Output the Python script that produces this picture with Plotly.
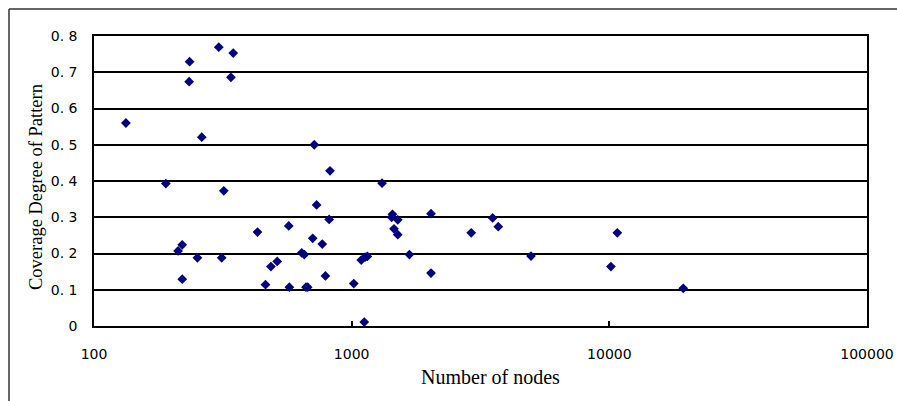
import plotly.graph_objects as go

nodes = [305, 347, 235, 234, 340, 133, 262, 190, 319, 716,
         824, 1312, 731, 818, 431, 570, 706, 769, 220, 212,
         252, 313, 220, 640, 655, 486, 514, 791, 463, 573,
         665, 675, 1019, 1119, 1089, 1127, 1150, 1440, 1430, 1510,
         1460, 1510, 2032, 2032, 1675, 2911, 3524, 3707, 4966, 10740,
         10140, 19360]
coverage = [0.769, 0.753, 0.729, 0.674, 0.686, 0.560, 0.521, 0.393, 0.373, 0.500,
            0.428, 0.394, 0.334, 0.294, 0.259, 0.276, 0.242, 0.226, 0.224, 0.207,
            0.188, 0.188, 0.129, 0.202, 0.197, 0.164, 0.178, 0.138, 0.114, 0.107,
            0.107, 0.107, 0.117, 0.011, 0.182, 0.190, 0.192, 0.308, 0.300, 0.293,
            0.268, 0.252, 0.310, 0.146, 0.197, 0.257, 0.298, 0.274, 0.193, 0.257,
            0.164, 0.104]

y_tickvals = [0, 0.1, 0.2, 0.3, 0.4, 0.5, 0.6, 0.7, 0.8]
y_ticktext = ["0", "0. 1", "0. 2", "0. 3", "0. 4", "0. 5", "0. 6", "0. 7", "0. 8"]
x_tickvals = [100, 1000, 10000, 100000]
x_ticktext = ["100", "1000", "10000", "100000"]

fig = go.Figure()
fig.add_trace(go.Scatter(
    x=nodes, y=coverage, mode="markers",
    marker=dict(symbol="diamond", size=7.5, color="#000080"),
    showlegend=False, cliponaxis=False,
))

W, H = 897, 401
L, R, T, B = 94, 30, 36, 75
pw = W - L - R
ph = H - T - B

fig.update_layout(
    width=W, height=H,
    margin=dict(l=L, r=R, t=T, b=B, autoexpand=False),
    paper_bgcolor="white", plot_bgcolor="white",
    font=dict(family="Liberation Serif", color="black"),
    xaxis=dict(
        type="log", range=[2, 5],
        tickvals=x_tickvals, ticktext=x_ticktext,
        ticks="inside", ticklen=5, tickwidth=1.5, tickcolor="black",
        showgrid=False, zeroline=False,
        showline=True, linecolor="black", linewidth=1.5, mirror=True,
        tickfont=dict(family="DejaVu Sans", size=14, color="black"),
        ticklabelstandoff=14,
        automargin=False,
    ),
    yaxis=dict(
        range=[0, 0.8],
        tickvals=y_tickvals, ticktext=y_ticktext,
        ticks="", showgrid=True, gridcolor="black", gridwidth=1.5,
        zeroline=False,
        showline=True, linecolor="black", linewidth=1.5, mirror=True,
        tickfont=dict(family="DejaVu Sans", size=14, color="black"),
        ticklabelstandoff=12,
        automargin=False,
    ),
)

# axis titles placed as annotations
fig.add_annotation(text="Number of nodes", xref="paper", yref="paper",
                   x=(490 - L) / pw, y=-(377 - (T + ph)) / ph,
                   xanchor="center", yanchor="middle", showarrow=False,
                   font=dict(family="Liberation Serif", size=20, color="black"))
fig.add_annotation(text="Coverage Degree of Pattern", xref="paper", yref="paper",
                   x=(36 - L) / pw, y=(T + ph - 187) / ph, textangle=-90,
                   xanchor="center", yanchor="middle", showarrow=False,
                   font=dict(family="Liberation Serif", size=18.5, color="black"))

# outer chart frame (top and left edges visible)
x0 = (9 - L) / pw
y0 = 1 + (T - 9) / ph
fig.add_shape(type="line", xref="paper", yref="paper", x0=x0, x1=(W + 5 - L) / pw, y0=y0, y1=y0,
              line=dict(color="#333333", width=1.5))
fig.add_shape(type="line", xref="paper", yref="paper", x0=x0, x1=x0, y0=y0, y1=-(B + 5) / ph,
              line=dict(color="#333333", width=1.5))

fig.write_html("out.html", config={"displayModeBar": False},
               post_script="document.body.style.margin='0';document.body.style.overflow='hidden';")
